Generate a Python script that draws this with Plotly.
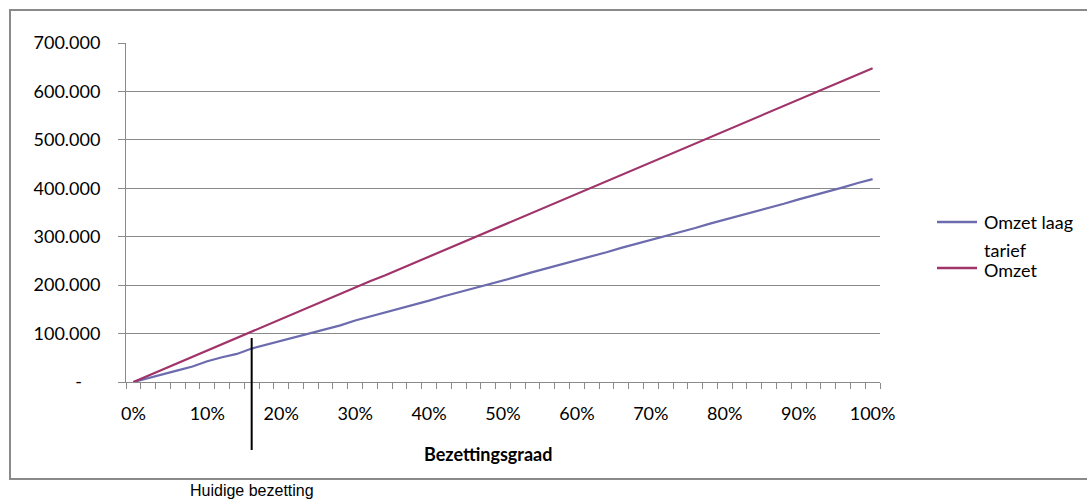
import plotly.graph_objects as go

# Bezettingsgraad (%) per categorie
bezetting = [0, 2, 4, 6, 8, 10, 12, 14, 16, 18, 20, 22, 24, 26, 28, 30, 32, 34, 36, 38, 40,
             42, 44, 46, 48, 50, 52, 54, 56, 58, 60, 62, 64, 66, 68, 70, 72, 74, 76, 78, 80,
             82, 84, 86, 88, 90, 92, 94, 96, 98, 100]

omzet_laag_tarief = [0, 8500, 17000, 24000, 32000, 43000, 51000, 58000, 69000, 77000, 85000,
                     92000, 101000, 109000, 117000, 127000, 135000, 143000, 152000, 160000, 168000,
                     177000, 185000, 193000, 202000, 210000, 218000, 227000, 235000, 243000, 252000,
                     260000, 268000, 277000, 285000, 293000, 302000, 310000, 318000, 327000, 335000,
                     343000, 352000, 360000, 368000, 377000, 385000, 394000, 402000, 411000, 419000]

omzet = [0, 13000, 26000, 39000, 52000, 64500, 77500, 90500, 104000, 117000, 130000,
         143000, 156000, 168500, 181500, 196000, 208000, 220000, 233000, 246000, 259000,
         272000, 285000, 298000, 311000, 324000, 337000, 350000, 363000, 376000, 389000,
         402000, 415000, 428000, 441000, 454000, 467000, 480000, 493000, 506000, 519000,
         531000, 544000, 557000, 570000, 583000, 596000, 609000, 622000, 635000, 648000]

y_ticks = [0, 100000, 200000, 300000, 400000, 500000, 600000, 700000]
y_labels = ["-" + "\u00a0" * 4, "100.000", "200.000", "300.000", "400.000",
            "500.000", "600.000", "700.000"]
x_ticks = [0, 10, 20, 30, 40, 50, 60, 70, 80, 90, 100]
x_labels = ["0%", "10%", "20%", "30%", "40%", "50%", "60%", "70%", "80%", "90%", "100%"]

huidige_bezetting = 16

kleur_laag = "#6B6BAE"
kleur_omzet = "#A0346A"
grijs = "#8A8A8A"

W, H = 1087, 500
L, R, T, B = 126, 207, 43, 118
plot_w = W - L - R
plot_h = H - T - B
x_range = [-1, 101]


def px_x(px):
    return (px - L) / plot_w


def px_y(py):
    return (H - B - py) / plot_h


fig = go.Figure()
fig.add_trace(go.Scatter(x=bezetting, y=omzet_laag_tarief, mode="lines",
                         line=dict(color=kleur_laag, width=2.2),
                         name="Omzet laag tarief", showlegend=False))
fig.add_trace(go.Scatter(x=bezetting, y=omzet, mode="lines",
                         line=dict(color=kleur_omzet, width=2.2),
                         name="Omzet", showlegend=False))

font_main = "Lato, 'Open Sans', sans-serif"

fig.update_layout(
    width=W, height=H,
    margin=dict(l=L, r=R, t=T, b=B, pad=0),
    paper_bgcolor="white", plot_bgcolor="white",
    font=dict(family=font_main, size=18, color="#000000"),
    xaxis=dict(
        range=x_range, tickmode="array", tickvals=x_ticks, ticktext=x_labels,
        ticks="outside", ticklen=6, tickcolor="rgba(0,0,0,0)",
        showgrid=False, zeroline=False,
        showline=True, linecolor=grijs, linewidth=1,
        ticklabelstandoff=9,
        minor=dict(tickmode="array", tickvals=[v - 1 for v in bezetting] + [101],
                   ticks="outside", ticklen=6, tickcolor=grijs, tickwidth=1,
                   showgrid=False),
    ),
    yaxis=dict(
        range=[0, 700000], tickmode="array", tickvals=y_ticks, ticktext=y_labels,
        ticks="outside", ticklen=7, tickcolor=grijs, tickwidth=1,
        showgrid=True, gridcolor=grijs, gridwidth=1, zeroline=False,
        showline=True, linecolor=grijs, linewidth=1,
        ticklabelstandoff=14,
    ),
)

shapes = []
# outer chart border
shapes.append(dict(type="rect", xref="paper", yref="paper",
                   x0=px_x(10), x1=px_x(1100), y0=px_y(479), y1=px_y(10),
                   line=dict(color=grijs, width=2), fillcolor="rgba(0,0,0,0)", layer="below"))
# marker for the current occupancy
x_huidig = (huidige_bezetting - x_range[0]) / (x_range[1] - x_range[0])
shapes.append(dict(type="line", xref="paper", yref="paper",
                   x0=x_huidig, x1=x_huidig, y0=px_y(450), y1=px_y(338),
                   line=dict(color="#000000", width=2)))
# legend samples
shapes.append(dict(type="line", xref="paper", yref="paper",
                   x0=px_x(937), x1=px_x(977), y0=px_y(222), y1=px_y(222),
                   line=dict(color=kleur_laag, width=2.5)))
shapes.append(dict(type="line", xref="paper", yref="paper",
                   x0=px_x(937), x1=px_x(977), y0=px_y(268), y1=px_y(268),
                   line=dict(color=kleur_omzet, width=2.5)))
fig.update_layout(shapes=shapes)

annotations = [
    dict(text="Omzet laag", x=px_x(982), y=px_y(222), xanchor="left", yanchor="middle"),
    dict(text="tarief", x=px_x(982), y=px_y(250), xanchor="left", yanchor="middle"),
    dict(text="Omzet", x=px_x(982), y=px_y(270), xanchor="left", yanchor="middle"),
    dict(text="<b>Bezettingsgraad</b>", x=px_x(488), y=px_y(454),
         xanchor="center", yanchor="middle"),
    dict(text="Huidige bezetting", x=x_huidig, y=px_y(501), xanchor="center", yanchor="bottom",
         font=dict(family="'Liberation Sans', Arial, sans-serif", size=16, color="#000000")),
]
for a in annotations:
    a.update(xref="paper", yref="paper", showarrow=False)
fig.update_layout(annotations=annotations)

fig.write_html("out.html")
